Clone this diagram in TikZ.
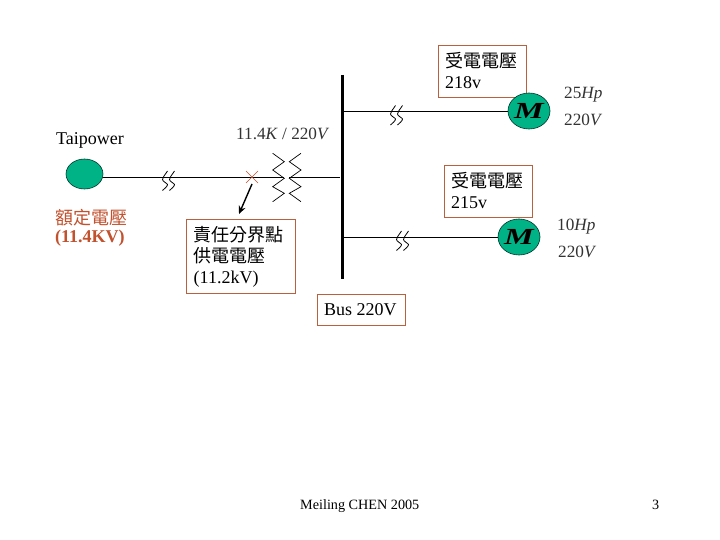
\documentclass[tikz,border=0pt]{standalone}
\usepackage{fontspec}
\usepackage{graphicx}
\usetikzlibrary{shapes.geometric,arrows.meta}
\setmainfont{Liberation Serif}
\newfontfamily\cjk{Noto Sans CJK TC}
\definecolor{boxc}{HTML}{B9603F}
\definecolor{redt}{HTML}{C2512D}
\definecolor{mgreen}{HTML}{00B386}
\definecolor{spec}{HTML}{333333}
\tikzset{
  wire/.style={draw=black,line width=0.9pt},
  lab/.style={anchor=west,inner sep=0pt,font=\fontsize{18}{21}\selectfont,align=left},
  spectext/.style={anchor=west,inner sep=0pt,font=\fontsize{17.2}{19}\selectfont,text=spec},
  foot/.style={anchor=west,inner sep=0pt,font=\fontsize{14.2}{17}\selectfont},
  notebox/.style={draw=boxc,line width=0.9pt,fill=white,inner sep=0pt,rectangle},
  machine/.style={draw=black!70!mgreen,line width=0.6pt,fill=mgreen,ellipse,inner sep=0pt,font=\fontsize{23}{23}\selectfont\bfseries\itshape},
  coil/.style={draw=black,line width=0.7pt,line join=miter},
  brk/.pic={\draw[black,line width=0.8pt]
     (-1,-9.5) .. controls (-4,-5) and (-6,-3) .. (-6,-1) .. controls (-6,1) and (-1,3) .. (-1,4) .. controls (-1,6) and (-4,8) .. (-6,10)
     (6,-9.5) .. controls (3,-5) and (1,-3) .. (1,-1) .. controls (1,1) and (6,3) .. (6,4) .. controls (6,6) and (3,8) .. (1,10);}
}
\begin{document}
\begin{tikzpicture}[x=1pt,y=-1pt]
\useasboundingbox[fill=white] (0,0) rectangle (720,540);
% bus
\coordinate (busT) at (342.5,75);
\coordinate (busB) at (342.5,279);
\draw[black,line width=3pt] (busT) -- (busB);
% source
\node[machine,minimum width=37pt,minimum height=30pt] (src) at (84.5,174) {};
\coordinate (srcw) at (103,177);
\coordinate (tl) at (284.3,177);
\coordinate (tr) at (289.3,177);
\coordinate (bus1) at (340,177);
\coordinate (bus2) at (344,111);
\coordinate (bus3) at (344,237);
\draw[wire] (srcw) -- (tl);
\draw[wire] (tr) -- (bus1);
% boxes under the motors
\node[notebox,minimum width=88pt,minimum height=52pt] (b1) at (482,71) {};
\node[lab] at (445,60.5) {\cjk 受電電壓};
\node[lab] at (445,82.5) {218v};
% motors
\node[machine,minimum width=42pt,minimum height=36pt] (m1) at (529,111) {\scalebox{1.45}[1]{M}};
\node[machine,minimum width=42pt,minimum height=36pt] (m2) at (519,237) {\scalebox{1.45}[1]{M}};
\draw[wire] (bus2) -- (m1);
\draw[wire] (bus3) -- (m2);
% breaks
\pic at (168.5,180.5) {brk};
\pic at (396.5,115) {brk};
\pic at (402.5,240.5) {brk};
% cross
\coordinate (xa) at (246,171);
\coordinate (xb) at (258,183);
\coordinate (xc) at (258,171);
\coordinate (xd) at (246,183);
\draw[redt,line width=0.6pt] (xa) -- (xb) (xc) -- (xd);
% transformer
\draw[coil] (272.7,153.3) -- (284.3,161.7) -- (272.7,170) -- (284.3,178.3) -- (272.7,186.7) -- (284.3,193.3) -- (272.7,201.7);
\draw[coil] (301,153.3) -- (289.3,161.7) -- (301,170) -- (289.3,178.3) -- (301,186.7) -- (289.3,193.3) -- (301,201.7);
% boxes
\node[notebox,minimum width=88pt,minimum height=52pt] (b2) at (488,191) {};
\node[lab] at (451,180.5) {\cjk 受電電壓};
\node[lab] at (451,202.5) {215v};
\node[notebox,minimum width=88pt,minimum height=31pt] (b3) at (361,309.5) {};
\node[lab] at (324,310) {Bus 220V};
\node[notebox,minimum width=109pt,minimum height=74pt] (b4) at (240.5,256) {};
\node[lab] at (193.5,235) {\cjk 責任分界點};
\node[lab] at (193.5,256) {\cjk 供電電壓};
\node[lab] at (193.5,279.5) {(11.2kV)};
\coordinate (arrS) at (252,184);
\coordinate (arrE) at (239,214);
\draw[black,line width=1.4pt,-{Stealth[length=8pt,width=7pt]}] (arrS) -- (arrE);
% labels
\node[lab] at (56,140) {Taipower};
\node[lab,text=redt] at (55,218) {\cjk 額定電壓};
\node[lab,text=redt,font=\fontsize{18}{21}\selectfont\bfseries] at (55,238.5) {(11.4KV)};
\node[spectext] at (236,134) {11.4\textit{K} / 220\textit{V}};
\node[spectext] at (564,94.5) {25\textit{Hp}};
\node[spectext] at (564,120) {220\textit{V}};
\node[spectext] at (557,227) {10\textit{Hp}};
\node[spectext] at (558,252) {220\textit{V}};
\node[foot] at (300,506) {Meiling CHEN 2005};
\node[foot] at (652,505) {3};
\end{tikzpicture}
\end{document}
